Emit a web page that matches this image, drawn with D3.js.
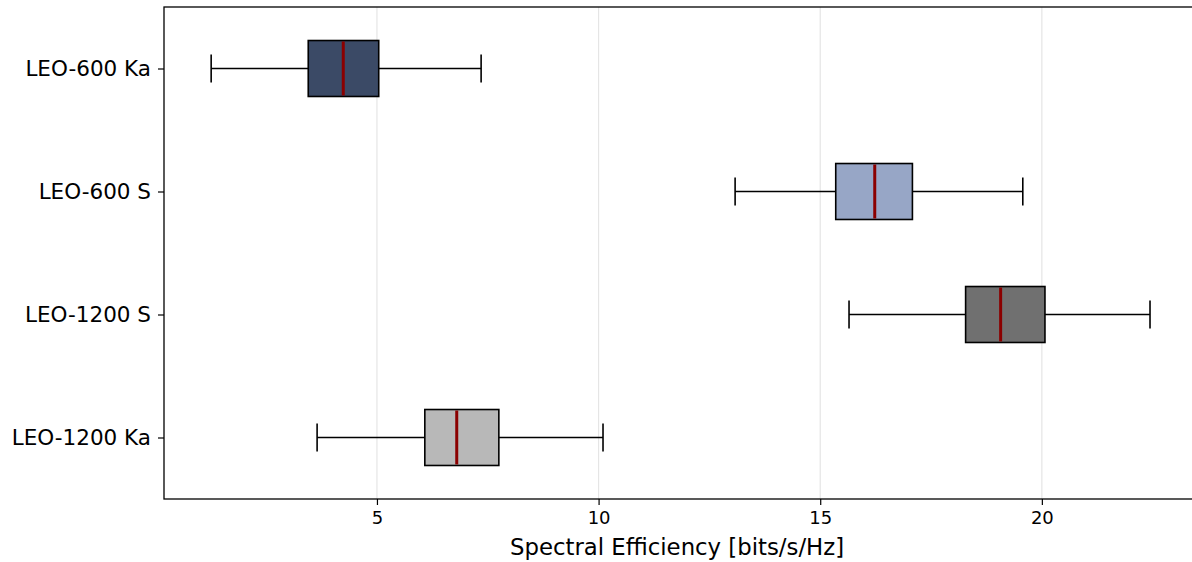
<!DOCTYPE html>
<html>
<head>
<meta charset="utf-8">
<script src="https://cdn.jsdelivr.net/npm/d3@7"></script>
<style>
  html, body { margin: 0; padding: 0; background: #fff; overflow: hidden; }
  text { font-family: "DejaVu Sans", sans-serif; fill: #000; }
</style>
</head>
<body>
<div id="chart"></div>
<script>

// Box stats (top to bottom)
var categories = ["LEO-600 Ka", "LEO-600 S", "LEO-1200 S", "LEO-1200 Ka"];
var whiskLow  = [1.26, 13.08, 15.65, 3.65];
var q1Vals    = [3.45, 15.35, 18.28, 6.08];
var medians   = [4.24, 16.23, 19.07, 6.80];
var q3Vals    = [5.04, 17.08, 20.07, 7.75];
var whiskHigh = [7.35, 19.57, 22.44, 10.10];
var boxColors = ["#3b4a66", "#97a6c6", "#707070", "#b8b8b8"];
var xTicks = [5, 10, 15, 20];

var margin = {top: 7, left: 164};
var width = 1033, height = 492;

var svg = d3.select("#chart").append("svg")
    .attr("width", 1200)
    .attr("height", 562);

var g = svg.append("g")
    .attr("transform", "translate(" + margin.left + "," + margin.top + ")");

var x = d3.scaleLinear()
    .domain([0.196, 23.5])
    .range([0, width]);

// matplotlib-ish positions 1..4 with 0.5 padding
var y = d3.scaleLinear()
    .domain([0.5, 4.5])
    .range([0, height]);

var boxW = 0.455;

var data = categories.map(function(c, i) {
    return {name: c, pos: i + 1, lo: whiskLow[i], q1: q1Vals[i], med: medians[i],
            q3: q3Vals[i], hi: whiskHigh[i], color: boxColors[i]};
});

// grid
g.selectAll(".grid")
    .data(xTicks)
    .enter().append("line")
    .attr("x1", function(d) { return x(d); })
    .attr("x2", function(d) { return x(d); })
    .attr("y1", 0)
    .attr("y2", height)
    .attr("stroke", "#e5e5e5")
    .attr("stroke-width", 1.2);

var box = g.selectAll(".box")
    .data(data)
    .enter().append("g")
    .attr("class", "box");

// whiskers
box.append("line")
    .attr("x1", function(d) { return x(d.lo); })
    .attr("x2", function(d) { return x(d.q1); })
    .attr("y1", function(d) { return y(d.pos); })
    .attr("y2", function(d) { return y(d.pos); })
    .attr("stroke", "#000").attr("stroke-width", 1.6);
box.append("line")
    .attr("x1", function(d) { return x(d.q3); })
    .attr("x2", function(d) { return x(d.hi); })
    .attr("y1", function(d) { return y(d.pos); })
    .attr("y2", function(d) { return y(d.pos); })
    .attr("stroke", "#000").attr("stroke-width", 1.6);

// caps
["lo", "hi"].forEach(function(k) {
    box.append("line")
        .attr("x1", function(d) { return x(d[k]); })
        .attr("x2", function(d) { return x(d[k]); })
        .attr("y1", function(d) { return y(d.pos - boxW / 4); })
        .attr("y2", function(d) { return y(d.pos + boxW / 4); })
        .attr("stroke", "#000").attr("stroke-width", 1.6);
});

box.append("rect")
    .attr("x", function(d) { return x(d.q1); })
    .attr("width", function(d) { return x(d.q3) - x(d.q1); })
    .attr("y", function(d) { return y(d.pos - boxW / 2); })
    .attr("height", y(1 + boxW) - y(1))
    .attr("fill", function(d) { return d.color; })
    .attr("stroke", "#000")
    .attr("stroke-width", 1.6);

box.append("line")
    .attr("x1", function(d) { return x(d.med); })
    .attr("x2", function(d) { return x(d.med); })
    .attr("y1", function(d) { return y(d.pos - boxW / 2) + 1; })
    .attr("y2", function(d) { return y(d.pos + boxW / 2) - 1; })
    .attr("stroke", "#8b0000")
    .attr("stroke-width", 3);

// axes
var xAxis = g.append("g")
    .attr("transform", "translate(0," + height + ")")
    .call(d3.axisBottom(x).tickValues(xTicks).tickSize(6).tickPadding(6));
xAxis.selectAll("text").style("font-size", "18px");

var yAxis = g.append("g")
    .call(d3.axisLeft(y).tickValues([1, 2, 3, 4])
        .tickFormat(function(d) { return categories[d - 1]; })
        .tickSize(6).tickPadding(7));
yAxis.selectAll("text").style("font-size", "21.5px");

g.selectAll(".domain").remove();
g.selectAll(".tick line").attr("stroke", "#000").attr("stroke-width", 1.2);

// frame
g.append("rect")
    .attr("width", width)
    .attr("height", height)
    .attr("fill", "none")
    .attr("stroke", "#000")
    .attr("stroke-width", 1.3);

g.append("text")
    .attr("x", x(11.77))
    .attr("y", height + 56)
    .attr("text-anchor", "middle")
    .style("font-size", "22.8px")
    .text("Spectral Efficiency [bits/s/Hz]");

</script>
</body>
</html>
